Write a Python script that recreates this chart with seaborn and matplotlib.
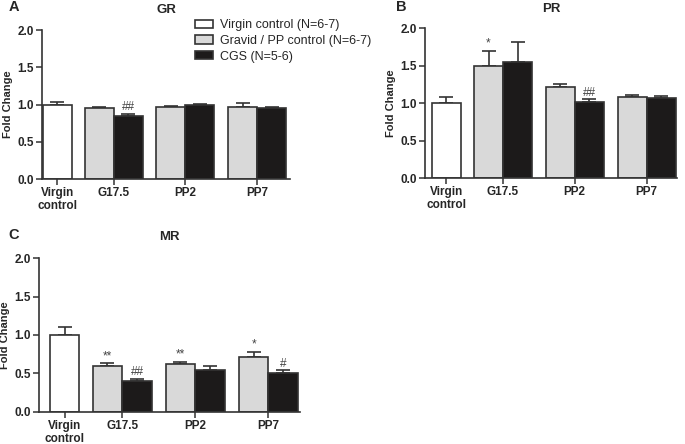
import numpy as np
import pandas as pd
import matplotlib
matplotlib.use("Agg")
import matplotlib.pyplot as plt
from matplotlib.patches import Patch
import seaborn as sns

# data
groups = ["Virgin control (N=6-7)", "Gravid / PP control (N=6-7)", "CGS (N=5-6)"]
timepoints = ["Virgin\ncontrol", "G17.5", "PP2", "PP7"]

gr_ctrl = [0.95, 0.97, 0.97]
gr_ctrl_err = [0.02, 0.01, 0.05]
gr_cgs = [0.85, 0.99, 0.95]
gr_cgs_err = [0.02, 0.02, 0.02]
gr_virgin, gr_virgin_err = 1.00, 0.03

pr_ctrl = [1.50, 1.21, 1.08]
pr_ctrl_err = [0.20, 0.04, 0.03]
pr_cgs = [1.55, 1.02, 1.07]
pr_cgs_err = [0.27, 0.03, 0.03]
pr_virgin, pr_virgin_err = 1.00, 0.075

mr_ctrl = [0.60, 0.625, 0.72]
mr_ctrl_err = [0.03, 0.03, 0.065]
mr_cgs = [0.40, 0.55, 0.50]
mr_cgs_err = [0.03, 0.05, 0.04]
mr_virgin, mr_virgin_err = 1.00, 0.11

gr_marks_ctrl = ["", "", ""]
gr_marks_cgs = ["##", "", ""]
pr_marks_ctrl = ["*", "", ""]
pr_marks_cgs = ["", "##", ""]
mr_marks_ctrl = ["**", "**", "*"]
mr_marks_cgs = ["##", "", "#"]

colors = {groups[0]: "white", groups[1]: "#d9d9d9", groups[2]: "#1c1a1a"}
edge = "#333333"

sns.set_style("ticks")
plt.rcParams["font.family"] = ["Liberation Sans", "DejaVu Sans"]

fig = plt.figure(figsize=(6.85, 4.44), dpi=100)

centers = [0, 1.95, 4.42, 6.9]


def panel(rect, xlim, virgin, virgin_err, ctrl, ctrl_err, cgs, cgs_err,
          marks_ctrl, marks_cgs, title, letter, letter_xy, title_y):
    ax = fig.add_axes(rect)
    pos = [centers[0]] + [c - 0.5 for c in centers[1:]] + [c + 0.5 for c in centers[1:]]
    vals = [virgin] + list(ctrl) + list(cgs)
    errs = [virgin_err] + list(ctrl_err) + list(cgs_err)
    grp = [groups[0]] + [groups[1]] * 3 + [groups[2]] * 3
    df = pd.DataFrame({"pos": pos, "value": vals, "group": grp, "err": errs})

    ax.errorbar(df["pos"], df["value"], yerr=[np.zeros(len(df)), df["err"]],
                fmt="none", ecolor=edge, elinewidth=1.2, capsize=5, capthick=1.2, zorder=1)
    sns.barplot(data=df, x="pos", y="value", hue="group", native_scale=True,
                width=1.0, palette=colors, edgecolor=edge, linewidth=1.2,
                errorbar=None, legend=False, ax=ax, zorder=2)

    for i in range(3):
        if marks_ctrl[i]:
            ax.text(centers[i + 1] - 0.5, ctrl[i] + ctrl_err[i] + 0.01, marks_ctrl[i],
                    ha="center", va="bottom", fontsize=8.5, color="#444444")
        if marks_cgs[i]:
            ax.text(centers[i + 1] + 0.5, cgs[i] + cgs_err[i] + 0.01, marks_cgs[i],
                    ha="center", va="bottom", fontsize=8.5, color="#444444")

    ax.set_xlim(*xlim)
    ax.set_ylim(0, 2.0)
    ax.set_yticks([0, 0.5, 1.0, 1.5, 2.0])
    ax.set_yticklabels(["0.0", "0.5", "1.0", "1.5", "2.0"], fontweight="bold", fontsize=8.5)
    ax.set_xticks(centers)
    ax.set_xticklabels(timepoints, fontweight="bold", fontsize=8.5, linespacing=1.05)
    ax.set_xlabel("")
    ax.set_ylabel("Fold Change", fontweight="bold", fontsize=8, labelpad=3)
    ax.tick_params(length=4, width=1.1, color=edge, pad=2)
    for s in ["left", "bottom"]:
        ax.spines[s].set_linewidth(1.2)
        ax.spines[s].set_color(edge)
    sns.despine(ax=ax)
    ax.set_title(title, fontweight="bold", fontsize=9.5, y=title_y)
    fig.text(letter_xy[0], letter_xy[1], letter, fontweight="bold", fontsize=10.5,
             ha="left", va="center")
    return ax


panel([0.0613, 0.5968, 0.362, 0.3356], (-0.52, 8.03), gr_virgin, gr_virgin_err,
      gr_ctrl, gr_ctrl_err, gr_cgs, gr_cgs_err, gr_marks_ctrl, gr_marks_cgs,
      "GR", "A", (0.012, 0.984), 1.06)
panel([0.6204, 0.599, 0.368, 0.3378], (-0.74, 7.95), pr_virgin, pr_virgin_err,
      pr_ctrl, pr_ctrl_err, pr_cgs, pr_cgs_err, pr_marks_ctrl, pr_marks_cgs,
      "PR", "B", (0.578, 0.984), 1.05)
panel([0.0569, 0.0721, 0.381, 0.3468], (-0.87, 7.97), mr_virgin, mr_virgin_err,
      mr_ctrl, mr_ctrl_err, mr_cgs, mr_cgs_err, mr_marks_ctrl, mr_marks_cgs,
      "MR", "C", (0.012, 0.47), 1.06)

handles = [Patch(facecolor=colors[g], edgecolor=edge, linewidth=1.2) for g in groups]
fig.legend(handles, groups, loc="upper left", bbox_to_anchor=(0.277, 0.968),
           frameon=False, fontsize=9, handlelength=1.5, handleheight=0.65,
           handletextpad=0.55, labelspacing=0.3, borderaxespad=0)

fig.savefig("out.png", dpi=100)
